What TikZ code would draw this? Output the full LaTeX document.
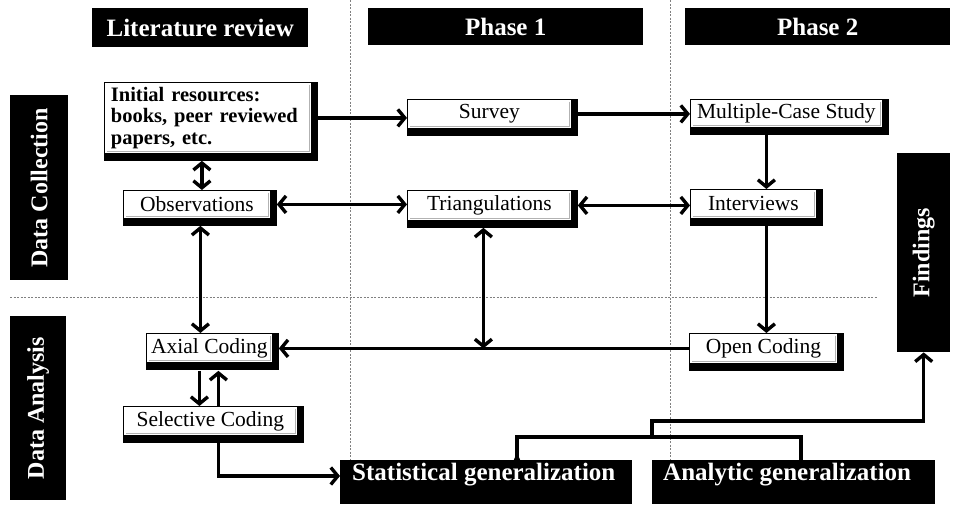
\documentclass[tikz,border=0pt]{standalone}
\usepackage{fontspec}
\setmainfont{Liberation Serif}
\usetikzlibrary{arrows.meta,backgrounds,calc}
\begin{document}
\begin{tikzpicture}[x=1pt,y=-1pt,
  wbox/.style={draw=black, line width=0.8pt, fill=white, anchor=north west, inner sep=0pt,
    font=\fontsize{21.5}{23}\selectfont},
  bbox/.style={fill=black, anchor=north west, inner sep=0pt},
  wtext/.style={text=white, inner sep=0pt, font=\bfseries\fontsize{25}{27}\selectfont},
  stext/.style={text=white, inner sep=0pt, font=\bfseries\fontsize{24}{26}\selectfont},
  conn/.style={line width=3.4pt},
  arr/.style={conn, -{Straight Barb[length=7pt,width=17pt]}},
  darr/.style={conn, {Straight Barb[length=7pt,width=17pt]}-{Straight Barb[length=7pt,width=17pt]}},
  gridline/.style={gray, line width=0.9pt, dash pattern=on 2pt off 1.5pt}]
\useasboundingbox (0,0) rectangle (954,504);

% grid lines
\draw[gridline] (350,0) -- (350,462);
\draw[gridline] (670,0) -- (670,462);
\draw[gridline] (10,297) -- (878,297);

% header boxes
\node[bbox, minimum width=216, minimum height=39] (lit) at (92,8) {};
\node[wtext] at (lit.center) {Literature review};
\node[bbox, minimum width=275, minimum height=37] (ph1) at (368,8) {};
\node[wtext] at (ph1.center) {Phase 1};
\node[bbox, minimum width=265, minimum height=37] (ph2) at (685,8) {};
\node[wtext] at (ph2.center) {Phase 2};

% side boxes
\node[bbox, minimum width=58, minimum height=185] (dc) at (10,95) {};
\node[stext, rotate=90] at (dc.center) {Data Collection};
\node[bbox, minimum width=56, minimum height=184] (da) at (10,316) {};
\node[stext, rotate=90] at (da.center) {Data Analysis};
\node[bbox, minimum width=53, minimum height=199] (find) at (897,153) {};
\node[stext, rotate=90] at (find.center) {Findings};

% white boxes
\node[wbox, minimum width=207, minimum height=71, text width=194, align=left,
  font=\bfseries\fontsize{20.5}{21.5}\selectfont] (init) at (104,82)
  {Initial resources:\\books, peer reviewed\\papers, etc.};
\node[wbox, minimum width=147, minimum height=28] (obs) at (123,190) {Observations};
\node[wbox, minimum width=164, minimum height=29] (survey) at (407,99) {Survey};
\node[wbox, minimum width=164, minimum height=30] (tri) at (407,190) {Triangulations};
\node[wbox, minimum width=192, minimum height=28] (mcs) at (690,99) {Multiple-Case Study};
\node[wbox, minimum width=126, minimum height=29] (int) at (690,189) {Interviews};
\node[wbox, minimum width=126, minimum height=29] (axial) at (146,333) {Axial Coding};
\node[wbox, minimum width=174, minimum height=29] (sel) at (123,406) {Selective Coding};
\node[wbox, minimum width=148, minimum height=30] (open) at (689,333) {Open Coding};

% shadows and inner rules
\begin{scope}[on background layer]
  \foreach \n in {init,obs,survey,tri,mcs,int,axial,sel,open}
    \fill[black] (\n.north west) rectangle ([shift={(6,7)}]\n.south east);
\end{scope}
\foreach \n in {init,obs,survey,tri,mcs,int,axial,sel,open}
  \draw[gray!60, line width=0.6pt] ([shift={(-2.5,2.5)}]\n.north east) -- ([shift={(-2.5,-2.5)}]\n.south east) -- ([shift={(2.5,-2.5)}]\n.south west);

% generalization boxes
\node[bbox, minimum width=292, minimum height=44] (stat) at (340,460) {};
\node[wtext, anchor=west] at ([shift={(12,15)}]stat.north west) {Statistical generalization};
\node[bbox, minimum width=283, minimum height=44] (anal) at (652,460) {};
\node[wtext, anchor=west] at ([shift={(11,15)}]anal.north west) {Analytic generalization};

% helper coordinates
\coordinate (c1) at ([shift={(5,0)}]obs.north);
\coordinate (c2) at ([shift={(13,0)}]int.north);
\coordinate (c3) at ([shift={(3.5,0)}]obs.south);
\coordinate (c4) at ([shift={(-6,0)}]tri.south);
\coordinate (c5) at ([shift={(-10,0)}]axial.south);
\coordinate (c6) at ([shift={(9,0)}]axial.south);
\coordinate (c7) at ([shift={(0,16)}]stat.north west);
\coordinate (j1) at ([shift={(177,0)}]stat.north west);
\coordinate (j2) at ([shift={(149,0)}]anal.north west);
\coordinate (j3) at ([shift={(0,-23)}]anal.north west);

% connectors
\draw[arr] ([shift={(6,0)}]init.east) -- (init.east -| survey.west);
\draw[arr] ([shift={(6,0)}]survey.east) -- (survey.east -| mcs.west);
\draw[darr] (c1 |- init.south) ++(0,7) -- (c1);
\draw[darr] ([shift={(6,0)}]obs.east) -- (obs.east -| tri.west);
\draw[darr] ([shift={(6,0)}]tri.east) -- (tri.east -| int.west);
\draw[arr] (c2 |- mcs.south) ++(0,7) -- (c2);
\draw[arr] (c2 |- int.south) ++(0,7) -- (c2 |- open.north);
\draw[darr] (c3) ++(0,7) -- (c3 |- axial.north);
\draw[darr] (c4) ++(0,7) -- (c4 |- open.west);
\draw[arr] (open.west) -- ([shift={(6,0)}]open.west -| axial.east);
\draw[arr] (c5) ++(0,8) -- (c5 |- sel.north);
\draw[arr] (c6 |- sel.north) -- ([shift={(0,8)}]c6);
\draw[arr] (c6 |- sel.south) ++(0,7) |- (c7);
\draw[conn] (j1) -- ++(0,-23) -| (j2);
\fill (j1) circle (3.2);
\draw[arr] (j3) -- ++(0,-16) -| (find.south);
\end{tikzpicture}
\end{document}
